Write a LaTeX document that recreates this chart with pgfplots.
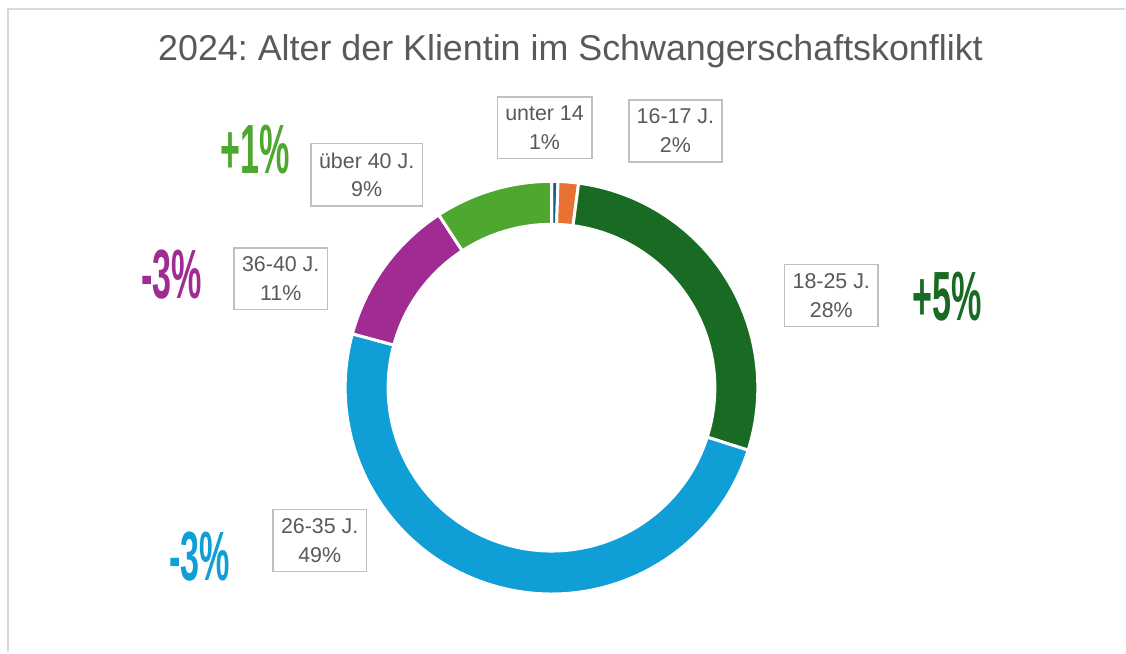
\documentclass[border=0pt]{standalone}
\usepackage{fontspec}
\setmainfont{Liberation Sans}
\usepackage{pgfplots}
\usepackage{pgfplotstable}
\pgfplotsset{compat=1.18}
\frenchspacing

% Office theme colours
\definecolor{acc1}{HTML}{156082}
\definecolor{acc2}{HTML}{E97132}
\definecolor{acc3}{HTML}{196B24}
\definecolor{acc4}{HTML}{0F9ED5}
\definecolor{acc5}{HTML}{A02B93}
\definecolor{acc6}{HTML}{4EA72E}
\definecolor{txt}{HTML}{595959}
\definecolor{boxline}{HTML}{BFBFBF}
\definecolor{framecol}{HTML}{D9D9D9}

\pgfdeclareplotmark{empty}{}

% slices (clockwise from 12 o'clock), label box positions
\pgfplotstableread[col sep=semicolon]{
lbl;pct;value;ci;lx;ly
unter 14;1;0.5;1;545;525
16-17 J.;2;1.6;2;676;522
18-25 J.;28;27.8;3;832;357
26-35 J.;49;49.3;4;320;112
36-40 J.;11;11.6;5;281;374
über 40 J.;9;9.2;6;367;478
}\slices
\pgfplotstablecreatecol[create col/expr accum={\pgfmathaccuma + \thisrow{value}}{0}]{cum}{\slices}

% change against previous year
\pgfplotstableread[col sep=semicolon]{
txt;ci;x;y
+1\%;6;255;503
-3\%;5;172;378
+5\%;3;948;356
-3\%;4;200;96
}\deltas

\begin{document}
\begin{tikzpicture}
\begin{axis}[
    width=1126bp, height=653bp, scale only axis,
    xmin=0, xmax=1126, ymin=0, ymax=653,
    hide axis, clip=false,
]
\path (axis cs:0,0) rectangle (axis cs:1126,653);
\draw[framecol, line width=2bp] (axis cs:8,0) -- (axis cs:8,644) -- (axis cs:1126,644);

\node[text=txt, font=\fontsize{36}{40}\selectfont] at (axis cs:571,602)
    {2024: Alter der Klientin im Schwangerschaftskonflikt};

% donut
\addplot[
    scatter, only marks, mark=empty,
    visualization depends on={\thisrow{value} \as \val},
    visualization depends on={\thisrow{cum} \as \cum},
    visualization depends on={\thisrow{ci} \as \ci},
    scatter/@pre marker code/.code={
        \pgfmathsetmacro\aa{90-3.6*(\cum-\val)}
        \pgfmathsetmacro\bb{90-3.6*\cum}
        \pgfmathtruncatemacro\cc{\ci}
        \filldraw[fill=acc\cc, draw=white, line width=3bp, line join=miter]
            (\aa:206.5bp) arc[start angle=\aa, end angle=\bb, radius=206.5bp]
            -- (\bb:163.5bp) arc[start angle=\bb, end angle=\aa, radius=163.5bp] -- cycle;
    },
    scatter/@post marker code/.code={},
] table[x expr=552, y expr=265] {\slices};

% data labels
\addplot[
    scatter, only marks, mark=empty,
    point meta=explicit symbolic,
    visualization depends on={\thisrow{pct} \as \pct},
    scatter/@pre marker code/.code={
        \pgfmathtruncatemacro\pp{\pct}
        \node[draw=boxline, line width=1.5bp, fill=white, text=txt, align=center,
              font=\fontsize{21.5}{29}\selectfont, inner xsep=8bp, inner ysep=9bp]
            at (0pt,0pt) {\pgfplotspointmeta\\\pp\%};
    },
    scatter/@post marker code/.code={},
] table[x=lx, y=ly, meta=lbl] {\slices};

% deltas
\addplot[
    scatter, only marks, mark=empty,
    point meta=explicit symbolic,
    visualization depends on={\thisrow{ci} \as \ci},
    scatter/@pre marker code/.code={
        \pgfmathtruncatemacro\cc{\ci}
        \node[text=acc\cc, font=\bfseries\fontsize{70}{70}\selectfont, xscale=0.49, inner sep=0pt]
            at (0pt,0pt) {\pgfplotspointmeta};
    },
    scatter/@post marker code/.code={},
] table[x=x, y=y, meta=txt] {\deltas};
\end{axis}
\end{tikzpicture}
\end{document}
